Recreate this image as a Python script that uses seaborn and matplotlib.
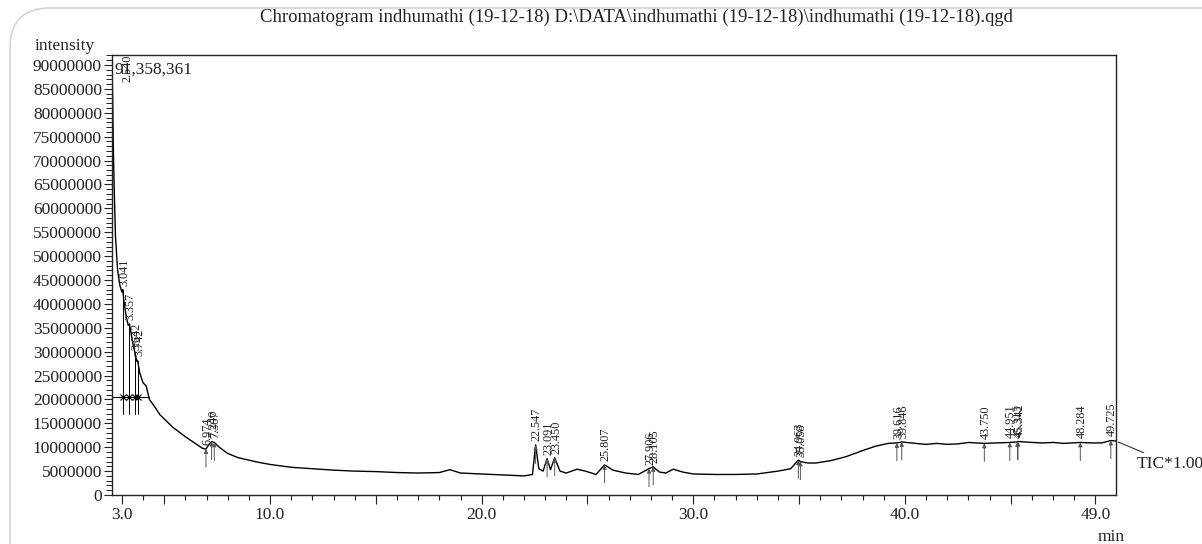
import numpy as np
import seaborn as sns
import matplotlib.pyplot as plt
from matplotlib.patches import FancyBboxPatch
from matplotlib.ticker import MultipleLocator, FixedLocator, FuncFormatter

# retention time (min) and TIC intensity (millions)
time = [2.53, 2.56, 2.60, 2.65, 2.70, 2.80, 2.90, 3.00, 3.04, 3.10, 3.20, 3.30, 3.36, 3.45,
        3.55, 3.64, 3.70, 3.74, 3.85, 4.00, 4.15, 4.30, 4.50, 4.80, 5.10, 5.40, 5.70, 6.00,
        6.40, 6.80, 6.97, 7.10, 7.24, 7.37, 7.60, 8.00, 8.50, 9.00, 9.50, 10.0, 11.0, 12.0,
        13.0, 14.0, 15.0, 16.0, 17.0, 18.0, 18.5, 19.0, 20.0, 21.0, 22.0, 22.4, 22.55, 22.7,
        22.9, 23.09, 23.25, 23.45, 23.7, 24.0, 24.5, 24.9, 25.4, 25.81, 26.2, 26.8, 27.4,
        27.9, 28.1, 28.4, 28.7, 29.05, 29.5, 30.0, 31.0, 32.0, 33.0, 34.0, 34.6, 34.96, 35.06,
        35.4, 35.8, 36.5, 37.2, 38.0, 38.6, 39.2, 39.62, 39.85, 40.5, 41.0, 41.5, 42.0, 42.5,
        43.0, 43.75, 44.3, 44.95, 45.31, 45.34, 46.0, 46.5, 47.0, 47.5, 48.28, 48.8, 49.3,
        49.73, 49.96]
intensity = [91.36, 84.0, 72.0, 62.0, 54.0, 47.0, 44.0, 42.5, 43.0, 40.5, 37.5, 35.5, 35.8, 33.5,
             31.0, 29.5, 28.0, 28.2, 25.5, 23.5, 22.8, 20.0, 18.8, 16.8, 15.5, 14.2, 13.2, 12.2,
             11.0, 9.8, 9.6, 10.5, 11.2, 11.0, 10.0, 8.7, 7.8, 7.3, 6.8, 6.4, 5.8, 5.5,
             5.2, 5.0, 4.9, 4.7, 4.6, 4.7, 5.3, 4.6, 4.4, 4.2, 4.0, 4.3, 10.5, 5.5,
             5.0, 7.6, 5.3, 7.8, 5.0, 4.6, 5.4, 5.0, 4.3, 6.3, 5.2, 4.6, 4.3,
             5.5, 5.9, 4.8, 4.6, 5.4, 4.8, 4.4, 4.3, 4.3, 4.4, 5.0, 5.5, 7.3, 7.0,
             6.7, 6.7, 7.2, 8.0, 9.3, 10.2, 10.8, 10.9, 11.1, 10.8, 10.6, 10.8, 10.6, 10.7,
             11.0, 10.8, 10.9, 11.0, 11.1, 11.2, 11.0, 10.9, 11.0, 10.8, 11.0, 10.9, 10.9,
             11.4, 11.3]

peak_rt = [2.540, 3.041, 3.357, 3.642, 3.742, 6.974, 7.240, 7.367, 22.547, 23.091, 23.450,
           25.807, 27.906, 28.105, 34.963, 35.058, 39.616, 39.846, 43.750, 44.951, 45.313,
           45.342, 48.284, 49.725]
early_peaks = [3.041, 3.357, 3.642, 3.742]

x_labels = [3.0, 10.0, 20.0, 30.0, 40.0, 49.0]
x_major = [3, 5, 10, 15, 20, 25, 30, 35, 40, 45, 49]

title = 'Chromatogram indhumathi (19-12-18) D:\\DATA\\indhumathi (19-12-18)\\indhumathi (19-12-18).qgd'

sns.set_theme(style='white')
plt.rcParams['font.family'] = ['Liberation Serif', 'DejaVu Serif']
plt.rcParams['text.color'] = '#222222'

df_t = np.array(time)
df_i = np.array(intensity) * 1e6

fig = plt.figure(figsize=(12.02, 5.44), dpi=100)
ax = fig.add_axes([111.7 / 1202, 1 - 495 / 544, (1116 - 111.7) / 1202, (495 - 55) / 544])

sns.lineplot(x=df_t, y=df_i, ax=ax, color='black', lw=1.0, estimator=None, sort=False)

ax.set_xlim(2.52, 49.97)
ax.set_ylim(0, 92.1e6)

# baseline drawn under the early peaks
ax.plot([2.53, 4.3], [20.5e6, 20.5e6], color='black', lw=0.8)
for rt in early_peaks:
    top = np.interp(rt, df_t, df_i)
    ax.plot([rt, rt], [17e6, top], color='black', lw=0.7)
    ax.plot(rt, 20.5e6, marker='x', ms=5, color='black', mew=0.8)

# peak markers and retention time labels
for rt in peak_rt:
    y = np.interp(rt, df_t, df_i)
    off_scale = y > 85e6
    base = 85.5e6 if off_scale else y
    dx = 11 if off_scale else 1
    if rt not in early_peaks and not off_scale:
        ax.annotate('', xy=(rt, y), xytext=(0, -13), textcoords='offset points',
                    arrowprops=dict(arrowstyle='-|>', lw=0.7, color='#555555',
                                    mutation_scale=6, shrinkA=0, shrinkB=0))
    ax.annotate(f'{rt:.3f}', xy=(rt, base), xytext=(dx, 3), textcoords='offset points',
                rotation=90, ha='center', va='bottom', fontsize=8.8, color='#222222',
                annotation_clip=False, clip_on=True)

ax.text(0.003, 0.985, '91,358,361', transform=ax.transAxes, fontsize=12.5,
        ha='left', va='top', color='#222222')

ax.annotate('TIC*1.00', xy=(df_t[-1], df_i[-1]), xycoords='data',
            xytext=(1137 / 1202, 1 - 464 / 544), textcoords='figure fraction',
            fontsize=12.5, ha='left', va='center', annotation_clip=False,
            arrowprops=dict(arrowstyle='-', lw=0.8, color='#333333', shrinkA=0, shrinkB=2))

# axes and ticks
for s in ax.spines.values():
    s.set_color('#222222')
    s.set_linewidth(1.0)

ax.xaxis.set_major_locator(FixedLocator(x_major))
ax.xaxis.set_minor_locator(MultipleLocator(1))
ax.xaxis.set_major_formatter(FuncFormatter(lambda v, p: f'{v:.1f}' if v in x_labels else ''))
ax.yaxis.set_major_locator(MultipleLocator(5e6))
ax.yaxis.set_minor_locator(MultipleLocator(1e6))
ax.yaxis.set_major_formatter(FuncFormatter(lambda v, p: f'{v:.0f}'))

ax.tick_params(axis='both', which='both', direction='out', colors='#222222',
               labelcolor='#222222', labelsize=12.5, bottom=True, left=True)
ax.tick_params(axis='x', which='major', length=6.5, width=0.8, pad=2)
ax.tick_params(axis='x', which='minor', length=3.6, width=0.8)
ax.tick_params(axis='y', which='major', length=6, width=0.8, pad=1)
ax.tick_params(axis='y', which='minor', length=4, width=0.7)
ax.set_xlabel('')
ax.set_ylabel('')

fig.text(636 / 1202, 1 - 17 / 544, title, ha='center', va='center', fontsize=13.5, color='#222222')
fig.text(35 / 1202, 1 - 46 / 544, 'intensity', ha='left', va='center', fontsize=12.5)
fig.text(1111 / 1202, 1 - 537 / 544, 'min', ha='center', va='center', fontsize=12.5)

# light rounded frame around the figure
frame = FancyBboxPatch((0.10, -0.4), 12.4, 5.76, boxstyle='round,pad=0,rounding_size=0.4',
                       transform=fig.dpi_scale_trans, fill=False, edgecolor='#d4d4d4', lw=1.2)
fig.patches.append(frame)

fig.savefig('out.png', dpi=100)
